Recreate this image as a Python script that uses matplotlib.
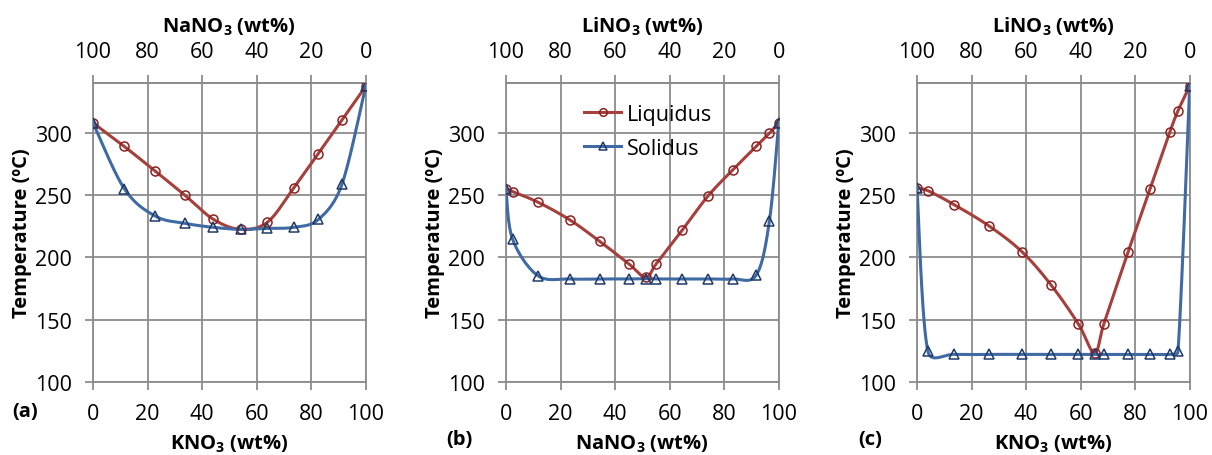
import numpy as np
import matplotlib.pyplot as plt

plt.rcParams['font.family'] = ['Open Sans', 'DejaVu Sans']
plt.rcParams['mathtext.fontset'] = 'custom'
plt.rcParams['mathtext.rm'] = 'Open Sans'
plt.rcParams['mathtext.bf'] = 'Open Sans:bold'

# (a) KNO3 - NaNO3
a_liq_x = [0, 11.5, 22.8, 33.8, 44.2, 54.2, 64.0, 73.6, 82.5, 91.3, 100]
a_liq_t = [308, 289, 269.3, 249.7, 230.5, 222.5, 228.3, 255.6, 282.9, 310.2, 337.2]
a_sol_x = [0, 11.5, 22.8, 33.8, 44.2, 54.2, 64.0, 73.6, 82.7, 91.3, 100]
a_sol_t = [308, 255.1, 233.2, 227.3, 224.1, 222.5, 223.3, 224.1, 230.5, 258.6, 337.2]

# (b) NaNO3 - LiNO3
b_liq_x = [0, 2.4, 11.7, 23.4, 34.4, 45.0, 51.2, 55.1, 64.7, 74.0, 83.1, 91.8, 96.6, 100]
b_liq_t = [255, 252.8, 244.3, 230.1, 212.8, 194.9, 184.0, 194.9, 222.1, 249.1, 270.1, 289.1, 299.7, 308]
b_sol_x = [0, 2.4, 11.7, 23.4, 34.4, 45.0, 51.2, 55.1, 64.7, 74.0, 83.1, 91.8, 96.6, 100]
b_sol_t = [255, 214.7, 185.3, 182.7, 182.7, 182.7, 183.0, 182.7, 182.7, 182.7, 182.7, 185.9, 229.3, 308]

# (c) KNO3 - LiNO3
c_liq_x = [0, 4.0, 13.7, 26.5, 38.6, 49.3, 59.2, 65.1, 68.5, 77.4, 85.4, 92.7, 95.7, 100]
c_liq_t = [255.6, 253.5, 242.2, 225.1, 204.3, 177.5, 146.5, 123.3, 146.5, 204.3, 254.5, 300.5, 317.6, 337.4]
c_sol_x = [0, 4.0, 13.7, 26.5, 38.6, 49.3, 59.2, 65.1, 68.5, 77.4, 85.4, 92.7, 95.7, 100]
c_sol_t = [255.6, 124.6, 122.2, 122.2, 122.2, 122.2, 122.2, 122.2, 122.2, 122.2, 122.2, 122.2, 124.6, 337.4]

panels = [
    ("(a)", r"KNO$_\mathbf{3}$ (wt%)", r"NaNO$_\mathbf{3}$ (wt%)", a_liq_x, a_liq_t, a_sol_x, a_sol_t),
    ("(b)", r"NaNO$_\mathbf{3}$ (wt%)", r"LiNO$_\mathbf{3}$ (wt%)", b_liq_x, b_liq_t, b_sol_x, b_sol_t),
    ("(c)", r"KNO$_\mathbf{3}$ (wt%)", r"LiNO$_\mathbf{3}$ (wt%)", c_liq_x, c_liq_t, c_sol_x, c_sol_t),
]

red = '#A5403D'
blue = '#3F6AA3'
grid_c = '#8c8c8c'


def smooth(x, y, sx=2.73, sy=1.25, n=30):
    # excel-like smoothed line (bezier through points), done in screen-ish units
    p = np.column_stack([np.asarray(x) * sx, np.asarray(y) * sy])
    p = np.vstack([p[0], p, p[-1]])
    out = []
    t = np.linspace(0, 1, n)[:, None]
    for i in range(1, len(p) - 2):
        p0, p1, p2, p3 = p[i - 1], p[i], p[i + 1], p[i + 2]
        d12 = np.hypot(*(p2 - p1))
        arm1 = (p2 - p0) / 6
        arm2 = (p3 - p1) / 6
        # keep control arms within half the segment, avoids big overshoot
        l1, l2 = np.hypot(*arm1), np.hypot(*arm2)
        if l1 > d12 / 2:
            arm1 = arm1 * (d12 / 2) / l1
        if l2 > d12 / 2:
            arm2 = arm2 * (d12 / 2) / l2
        b1 = p1 + arm1
        b2 = p2 - arm2
        seg = (1 - t) ** 3 * p1 + 3 * (1 - t) ** 2 * t * b1 + 3 * (1 - t) * t ** 2 * b2 + t ** 3 * p2
        out.append(seg)
    out = np.vstack(out)
    return out[:, 0] / sx, out[:, 1] / sy


fig = plt.figure(figsize=(12.12, 4.56), dpi=100)
lefts = [0.0767, 0.4175, 0.7566]
label_x = [0.010, 0.368, 0.708]
label_y = [0.085, 0.025, 0.025]

for i, (tag, xlab, toplab, lx, lt, sx_, st) in enumerate(panels):
    ax = fig.add_axes([lefts[i], 0.160, 0.2250, 0.656])
    ax.set_xlim(0, 100)
    ax.set_ylim(100, 340)
    ax.set_xticks(range(0, 101, 20))
    ax.set_yticks(range(100, 301, 50))
    ax.grid(True, color=grid_c, lw=1.3)
    ax.set_axisbelow(True)
    for s in ax.spines.values():
        s.set_color(grid_c)
        s.set_linewidth(1.3)
    ax.tick_params(direction='out', length=6, width=1.3, color=grid_c, labelsize=15.5, pad=9)

    xs, ys = smooth(lx, lt)
    ax.plot(xs, ys, color=red, lw=2.2, zorder=3)
    xs, ys = smooth(sx_, st)
    ax.plot(xs, ys, color=blue, lw=2.2, zorder=3)
    ax.plot(lx, lt, 'o', ms=6.5, mfc='none', mec='#8B2222', mew=1.1, zorder=4)
    ax.plot(sx_, st, '^', ms=6.5, mfc='none', mec='#1F3A68', mew=1.1, zorder=4)

    sec = ax.secondary_xaxis('top', functions=(lambda v: 100 - v, lambda v: 100 - v))
    sec.set_xticks(range(0, 101, 20))
    sec.spines['top'].set_color(grid_c)
    sec.spines['top'].set_linewidth(1.3)
    sec.tick_params(direction='out', length=6, width=1.3, color=grid_c, labelsize=15.5, pad=9)
    sec.set_xlabel(toplab, fontsize=14.5, fontweight='bold', labelpad=7)

    ax.set_xlabel(xlab, fontsize=14.5, fontweight='bold')
    ax.xaxis.set_label_coords(0.5, -0.17)
    ax.set_ylabel('Temperature (ºC)', fontsize=14.5, fontweight='bold')
    ax.yaxis.set_label_coords(-0.225, 0.5)

    fig.text(label_x[i], label_y[i], tag, fontsize=14.5, fontweight='bold')

    if tag == "(b)":
        h1, = ax.plot([], [], color=red, lw=2.2, marker='o', ms=5.5, mfc='none', mec='#8B2222', mew=1.1)
        h2, = ax.plot([], [], color=blue, lw=2.2, marker='^', ms=5.5, mfc='none', mec='#1F3A68', mew=1.1)
        ax.legend([h1, h2], ['Liquidus', 'Solidus'], loc='upper left', bbox_to_anchor=(0.285, 0.93),
                  frameon=False, fontsize=15.5, handlelength=1.75, handletextpad=0.25,
                  labelspacing=0.6, borderpad=0, borderaxespad=0)

fig.savefig('out.png', dpi=100)
